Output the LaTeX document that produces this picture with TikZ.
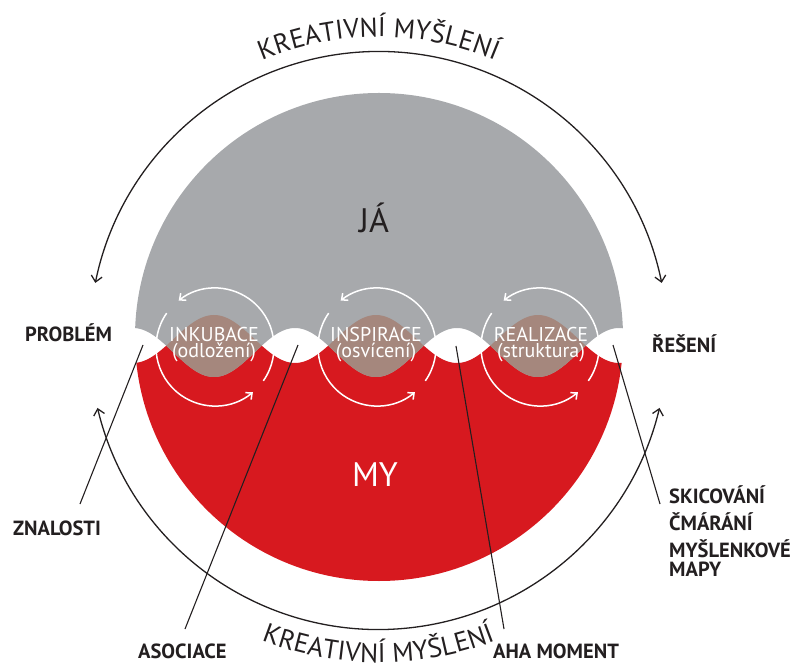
\documentclass[tikz,border=0pt]{standalone}
\usepackage{fontspec}
\setmainfont{PT Sans}
\usetikzlibrary{arrows.meta,decorations.text}
\definecolor{jagray}{HTML}{A7A9AC}
\definecolor{myred}{HTML}{D7191F}
\definecolor{mixbrown}{HTML}{A5877D}
\definecolor{ink}{HTML}{231F20}
\begin{document}
\begin{tikzpicture}[x=1pt,y=1pt,
  lbl/.style={font=\fontsize{20.5}{20.5}\selectfont\bfseries, text=ink, inner sep=0pt, anchor=base west},
  innertxt/.style={font=\fontsize{20}{20}\selectfont, text=white, inner sep=0pt, anchor=base},
  bigtxt/.style={font=\fontsize{34}{34}\selectfont, inner sep=0pt, anchor=base},
  leader/.style={draw=ink, line width=1.1pt},
  cyc/.style={draw=ink, line width=1.3pt, {Straight Barb[length=6pt,width=11pt]}-{Straight Barb[length=6pt,width=11pt]}},
  warr/.style={draw=white, line width=1.5pt, -{Straight Barb[length=5pt,width=9pt]}}
]
\useasboundingbox (0,0) rectangle (794,664);
\def\redwave{plot[domain=120:640,samples=300] (\x,{325-24*cos(2.2222*(\x-457))}) -- (640,0) -- (120,0) -- cycle}
\def\graywave{plot[domain=120:640,samples=300] (\x,{311.5+24.5*cos(2.2222*(\x-457))}) -- (640,664) -- (120,664) -- cycle}
\begin{scope}
  \clip (379,327) circle[radius=244];
  \fill[myred] \redwave;
  \fill[jagray] \graywave;
  \clip \graywave;
  \fill[mixbrown] \redwave;
\end{scope}

\coordinate (K) at (378.5,323.5);
\draw[cyc] ([shift={(11.5:289)}]K) arc[start angle=11.5, end angle=168.5, radius=289];
\draw[cyc] ([shift={(193.5:289)}]K) arc[start angle=193.5, end angle=346.5, radius=289];

\path[decorate, decoration={text along path, text align=center,
  text={|\fontsize{27}{27}\selectfont\color{ink}|KREATIVNÍ MYŠLENÍ}}]
  ([shift={(150:303.5)}]K) arc[start angle=150, end angle=30, radius=303.5];
\path[decorate, decoration={text along path, text align=center,
  text={|\fontsize{27}{27}\selectfont\color{ink}|KREATIVNÍ MYŠLENÍ}}]
  ([shift={(205:322)}]K) arc[start angle=205, end angle=335, radius=322];

\node[bigtxt, text=ink] (ja) at (374,431) {JÁ};
\node[bigtxt, text=white] (my) at (375,178) {MY};

\foreach \cx/\n in {215/a,377/b,540/c} {
  \coordinate (c\n) at (\cx,317);
  \draw[warr] ([shift={(-35:59)}]c\n) arc[start angle=-35, end angle=128, radius=59];
  \draw[warr] ([shift={(145:59)}]c\n) arc[start angle=145, end angle=310, radius=59];
}

\node[innertxt] (inkub) at (214,322) {INKUBACE};
\node[innertxt] (inkub2) at (214,306) {(odložení)};
\node[innertxt] (insp) at (376,322) {INSPIRACE};
\node[innertxt] (insp2) at (376,306) {(osvícení)};
\node[innertxt] (real) at (541,322) {REALIZACE};
\node[innertxt] (real2) at (541,306) {(struktura)};

\node[lbl] (problem) at (25,322) {PROBLÉM};
\node[lbl] (reseni) at (652,311) {ŘEŠENÍ};
\node[lbl] (znalosti) at (13,129) {ZNALOSTI};
\node[lbl] (skic1) at (669,161) {SKICOVÁNÍ};
\node[lbl] (skic2) at (669,134) {ČMÁRÁNÍ};
\node[lbl] (skic3) at (669,107) {MYŠLENKOVÉ};
\node[lbl] (skic4) at (669,88) {MAPY};
\node[lbl] (asoc) at (138,6) {ASOCIACE};
\node[lbl] (aha) at (493,6) {AHA MOMENT};

\coordinate (z1) at (80,160);  \coordinate (z2) at (143,319);
\coordinate (a1) at (185,35);  \coordinate (a2) at (298,319);
\coordinate (h1) at (504,35);  \coordinate (h2) at (456,318);
\coordinate (s1) at (660,160); \coordinate (s2) at (613,319);
\draw[leader] (z1) -- (z2);
\draw[leader] (a1) -- (a2);
\draw[leader] (h1) -- (h2);
\draw[leader] (s1) -- (s2);
\end{tikzpicture}
\end{document}
